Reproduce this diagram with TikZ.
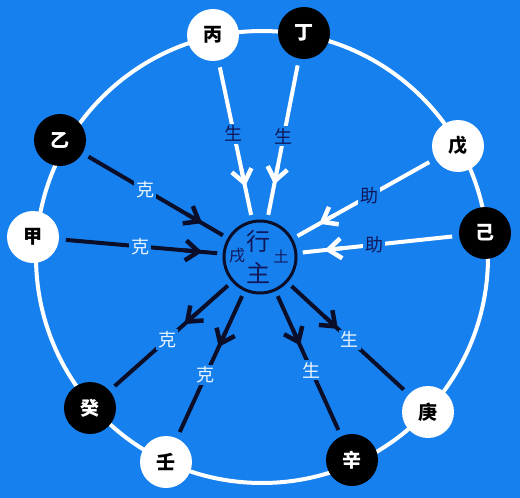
\documentclass[tikz,border=0pt]{standalone}
\usepackage{fontspec}
\newfontfamily\cjk{Noto Sans CJK SC}
\usetikzlibrary{arrows.meta,calc}
\definecolor{bg}{RGB}{22,128,238}
\definecolor{navy}{RGB}{16,24,90}
\definecolor{pale}{RGB}{235,245,255}
\definecolor{ink}{RGB}{10,14,40}
\begin{document}
\begin{tikzpicture}[x=1pt,y=-1pt,
  stem/.style={circle, minimum size=52pt, inner sep=0pt, font=\cjk\bfseries\fontsize{19}{19}\selectfont},
  yang/.style={stem, fill=white, text=black},
  yin/.style={stem, fill=black, text=white},
  wline/.style={white, line width=4pt},
  bline/.style={ink, line width=4pt},
  barb/.style={-{Straight Barb[length=13pt,width=20pt,line width=4.5pt]}},
  lab/.style={fill=bg, inner sep=2pt, font=\cjk\fontsize{18}{18}\selectfont},
  ctr/.style={text=navy, inner sep=0pt},
]
\fill[bg] (0,0) rectangle (520,498);
\useasboundingbox (0,0) rectangle (520,498);
\draw[white, line width=4pt] (262,257) circle[radius=226];

% centre
\coordinate (c) at (260,257);

% stems
\node[yang] (bing) at (213,35) {丙};
\node[yin]  (ding) at (304,33) {丁};
\node[yin]  (yi)   at (60,140) {乙};
\node[yang] (wu)   at (458,146) {戊};
\node[yin]  (ji)   at (485,233) {己};
\node[yang] (jia)  at (33,237) {甲};
\node[yin]  (gui)  at (90,408) {癸};
\node[yang] (ren)  at (166,462) {壬};
\node[yin]  (xin)  at (352,460) {辛};
\node[yang] (geng) at (428,412) {庚};

% inward white (生, 助)
\foreach \n/\t/\l/\txt in {bing/72/126/生, ding/74/123/生, wu/68/125/助, ji/65/115/助}{
  \draw[wline] ($(\n)!33pt!(c)$) -- ($(c)!43pt!(\n)$);
  \pgfmathsetmacro{\s}{\t+18}
  \draw[wline, barb] ($(c)!\s pt!(\n)$) -- ($(c)!\t pt!(\n)$);
  \node[lab, text=navy] at ($(c)!\l pt!(\n)$) {\txt};
}
% inward black (克)
\foreach \n/\t/\l/\txt in {yi/67/133/克, jia/58/120/克}{
  \draw[bline] ($(\n)!33pt!(c)$) -- ($(c)!43pt!(\n)$);
  \pgfmathsetmacro{\s}{\t+18}
  \draw[bline, barb] ($(c)!\s pt!(\n)$) -- ($(c)!\t pt!(\n)$);
  \node[lab, text=pale] at ($(c)!\l pt!(\n)$) {\txt};
}
% outward black
\foreach \n/\t/\l/\txt in {gui/101/124/克, ren/99/130/克, xin/97/124/生, geng/106/122/生}{
  \draw[bline] ($(c)!43pt!(\n)$) -- ($(\n)!33pt!(c)$);
  \pgfmathsetmacro{\s}{\t-18}
  \draw[bline, barb] ($(c)!\s pt!(\n)$) -- ($(c)!\t pt!(\n)$);
  \node[lab, text=pale] at ($(c)!\l pt!(\n)$) {\txt};
}

% centre circle and its texts
\node[circle, draw=ink, line width=3pt, fill=bg, minimum size=72pt, inner sep=0pt] (zhu) at (c) {};
\node[ctr, font=\cjk\fontsize{24}{24}\selectfont] (xing) at (258,241) {行};
\node[ctr, font=\cjk\fontsize{24}{24}\selectfont] (zhuz) at (258,273) {主};
\node[ctr, font=\cjk\fontsize{16}{16}\selectfont] (xu) at (237,256) {戌};
\node[ctr, font=\cjk\fontsize{15}{15}\selectfont] (tu) at (281,256) {土};
\end{tikzpicture}
\end{document}
